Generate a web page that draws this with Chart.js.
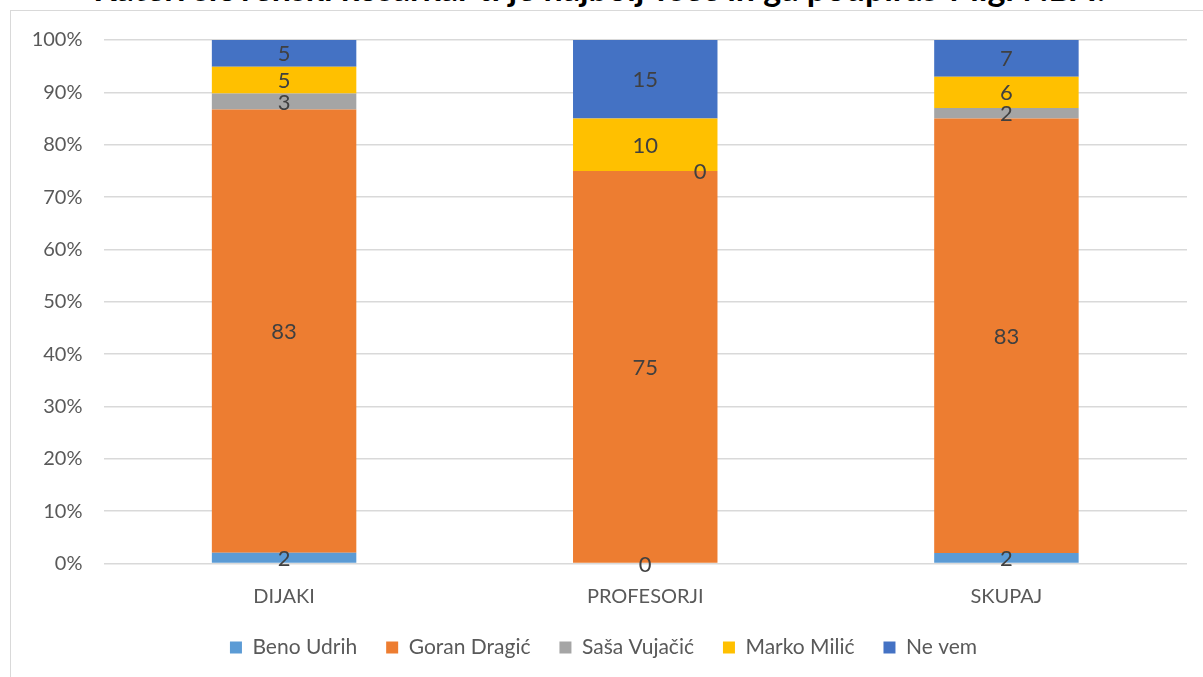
<!DOCTYPE html>
<html lang="sl">
<head>
    <meta charset="UTF-8">
    <title>Anketa - slovenski košarkarji</title>
    <script src="https://cdn.jsdelivr.net/npm/chart.js"></script>
    <style>
        html, body {
            margin: 0;
            padding: 0;
            background: #ffffff;
            overflow: hidden;
            width: 1203px;
            height: 677px;
        }
        #title {
            position: absolute;
            top: -33px;
            left: 0;
            width: 1203px;
            text-align: center;
            font-family: Lato, Arial, sans-serif;
            font-weight: bold;
            font-size: 34px;
            white-space: nowrap;
            color: #000;
        }
        #frame {
            position: absolute;
            left: 10px;
            top: 10px;
            width: 1260px;
            height: 720px;
            border: 1px solid #d9d9d9;
        }
        #chart {
            position: absolute;
            left: 0;
            top: 0;
        }
    </style>
</head>
<body>
    <div id="title">Kateri slovenski košarkar ti je najbolj všeč in ga podpiraš v ligi NBA?</div>
    <div id="frame"></div>
    <canvas id="chart" width="1203" height="677"></canvas>

    <script>
        const categories = ['DIJAKI', 'PROFESORJI', 'SKUPAJ'];
        const seriesNames = ['Beno Udrih', 'Goran Dragić', 'Saša Vujačić', 'Marko Milić', 'Ne vem'];
        const benoUdrih = [2, 0, 2];
        const goranDragic = [83, 75, 83];
        const sasaVujacic = [3, 0, 2];
        const markoMilic = [5, 10, 6];
        const neVem = [5, 15, 7];
        const colors = ['#5B9BD5', '#ED7D31', '#A5A5A5', '#FFC000', '#4472C4'];

        const allSeries = [benoUdrih, goranDragic, sasaVujacic, markoMilic, neVem];
        // 100% stacked: normalise each column to its total
        const totals = categories.map((c, i) => allSeries.reduce((s, arr) => s + arr[i], 0));

        const FONT = 'Lato, Arial, sans-serif';

        // value labels in the middle of each segment
        const segmentLabels = {
            id: 'segmentLabels',
            afterDatasetsDraw(chart) {
                const ctx = chart.ctx;
                ctx.save();
                ctx.font = '22px ' + FONT;
                ctx.fillStyle = '#404040';
                ctx.textAlign = 'center';
                ctx.textBaseline = 'middle';
                chart.data.datasets.forEach((ds, di) => {
                    const meta = chart.getDatasetMeta(di);
                    meta.data.forEach((bar, i) => {
                        const v = ds.raw[i];
                        let x = bar.x;
                        // Excel nudges a zero label sideways when it sits between other segments
                        if (v === 0 && di > 0) x += bar.width * 0.38;
                        ctx.fillText(String(v), x, (bar.y + bar.base) / 2 + 1);
                    });
                });
                ctx.restore();
            }
        };

        new Chart(document.getElementById('chart'), {
            type: 'bar',
            data: {
                labels: categories,
                datasets: allSeries.map((arr, k) => ({
                    label: seriesNames[k],
                    raw: arr,
                    data: arr.map((v, i) => v / totals[i] * 100),
                    backgroundColor: colors[k],
                    borderWidth: 0,
                    categoryPercentage: 1,
                    barPercentage: 0.4
                }))
            },
            options: {
                responsive: false,
                animation: false,
                devicePixelRatio: 1,
                layout: { padding: { left: 20, right: 16, top: 40, bottom: 9 } },
                plugins: {
                    tooltip: { enabled: false },
                    legend: {
                        position: 'bottom',
                        labels: {
                            boxWidth: 12,
                            boxHeight: 12,
                            padding: 29,
                            color: '#595959',
                            font: { family: FONT, size: 21 }
                        }
                    }
                },
                scales: {
                    x: {
                        stacked: true,
                        grid: { display: false, drawTicks: false },
                        border: { display: false },
                        ticks: {
                            color: '#595959',
                            padding: 21,
                            font: { family: FONT, size: 20 }
                        },
                        afterFit(scale) { scale.height = 44.5; }
                    },
                    y: {
                        stacked: true,
                        min: 0,
                        max: 100,
                        grid: { color: '#d9d9d9', lineWidth: 1.5, drawTicks: false },
                        border: { display: false },
                        ticks: {
                            stepSize: 10,
                            color: '#595959',
                            padding: 21,
                            font: { family: FONT, size: 20 },
                            callback: v => v + '%'
                        },
                        afterFit(scale) { scale.width = 83.5; }
                    }
                }
            },
            plugins: [segmentLabels]
        });
    </script>
</body>
</html>
